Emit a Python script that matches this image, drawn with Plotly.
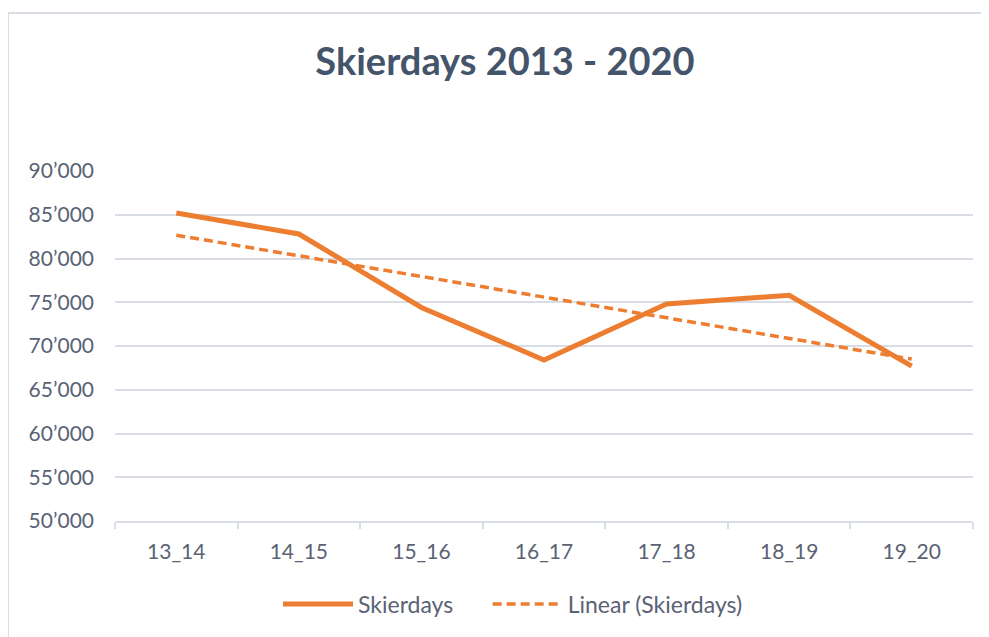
import numpy as np
import plotly.graph_objects as go

seasons = ["13_14", "14_15", "15_16", "16_17", "17_18", "18_19", "19_20"]
skierdays = [85200, 82800, 74400, 68400, 74800, 75800, 67700]
y_tickvals = [50000, 55000, 60000, 65000, 70000, 75000, 80000, 85000, 90000]
y_ticktext = ["50’000", "55’000", "60’000", "65’000", "70’000", "75’000", "80’000", "85’000", "90’000"]

# linear trendline derived from the series (least squares, like Excel)
xi = np.arange(len(skierdays))
slope, intercept = np.polyfit(xi, skierdays, 1)
trend = (slope * xi + intercept).tolist()

ORANGE = "#ED7D31"
GRID = "#D9DEE6"
TXT = "#5A6274"
FONT = "Lato"
PAD = "\u00a0" * 5

fig = go.Figure()
fig.add_trace(go.Scatter(x=seasons, y=skierdays, mode="lines", name="Skierdays" + PAD,
                         line=dict(color=ORANGE, width=5)))
fig.add_trace(go.Scatter(x=seasons, y=trend, mode="lines", name="Linear (Skierdays)",
                         line=dict(color=ORANGE, width=3.5, dash="9px,5px")))

fig.update_layout(
    width=981, height=629,
    margin=dict(l=107, r=16, t=163, b=116),
    paper_bgcolor="white", plot_bgcolor="white",
    font=dict(family=FONT, color=TXT, size=21),
    title=dict(text="<b>Skierdays 2013 - 2020</b>", x=497/981, xanchor="center",
               y=1-54/629, yanchor="middle",
               font=dict(family=FONT, size=38, color="#44546A")),
    showlegend=True,
    legend=dict(orientation="h", x=0.19, xanchor="left", y=-0.237, yanchor="middle",
                font=dict(size=23, color=TXT), itemwidth=70, traceorder="normal",
                bgcolor="rgba(0,0,0,0)"),
    shapes=[dict(type="rect", xref="paper", yref="paper",
                 x0=-0.1247, x1=1.03, y0=-0.36, y1=1.4514,
                 line=dict(color="#D9DEE5", width=2), layer="below")],
)
fig.update_xaxes(type="category", showgrid=False, showline=True, linecolor=GRID, linewidth=1.5,
                 ticks="outside", tickson="boundaries", ticklen=6, tickcolor=GRID, tickwidth=1.5,
                 tickfont=dict(size=21, color=TXT), ticklabelstandoff=11, range=[-0.5, 6.5])
fig.update_yaxes(range=[50000, 90000], tickvals=y_tickvals, ticktext=y_ticktext,
                 showgrid=True, gridcolor=GRID, gridwidth=1.5, zeroline=False, showline=False,
                 tickfont=dict(size=21, color=TXT), ticks="", ticklabelstandoff=20)

fig.write_html("out.html")
